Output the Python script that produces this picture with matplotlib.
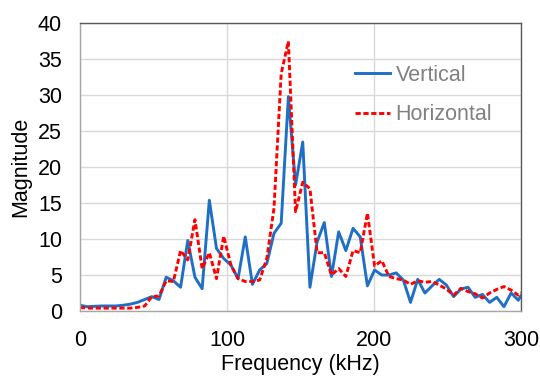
import numpy as np
import matplotlib
matplotlib.use("Agg")
import matplotlib.pyplot as plt

plt.rcParams['font.family'] = ['Liberation Sans', 'DejaVu Sans']

# FFT bin spacing (kHz)
bin_khz = 4.8828125
n_bins = 63

vertical = [0.8, 0.6, 0.65, 0.7, 0.7, 0.7, 0.8, 0.95, 1.2, 1.6,
            2.0, 1.6, 4.7, 4.2, 3.3, 9.8, 4.7, 3.1, 15.4, 8.7,
            7.3, 6.4, 4.5, 10.3, 3.7, 5.7, 6.6, 10.8, 12.2, 29.8,
            17.5, 23.5, 3.3, 9.6, 12.3, 4.8, 11.0, 8.4, 11.5, 10.3,
            3.5, 5.7, 5.0, 5.0, 5.3, 4.3, 1.2, 4.4, 2.5, 3.5,
            4.4, 3.6, 2.0, 3.05, 3.3, 1.9, 2.3, 1.2, 1.9, 0.6,
            2.5, 1.5, 3.1]

horizontal = [0.5, 0.4, 0.4, 0.4, 0.4, 0.4, 0.4, 0.4, 0.5, 0.7,
              2.0, 2.1, 4.2, 4.1, 8.4, 7.1, 12.7, 5.9, 8.1, 4.5,
              10.4, 6.4, 4.5, 4.1, 4.1, 4.3, 7.3, 14.3, 33.0, 37.5,
              13.8, 17.9, 17.0, 8.1, 8.1, 5.0, 5.9, 4.8, 8.4, 8.1,
              13.6, 6.25, 7.0, 4.8, 4.5, 4.3, 3.7, 4.2, 4.0, 4.1,
              3.6, 3.05, 2.2, 3.15, 2.7, 2.4, 1.8, 2.5, 3.0, 3.4,
              2.9, 2.2, 2.9]

freq = np.arange(n_bins) * bin_khz

x_ticks = [0, 100, 200, 300]
y_ticks = [0, 5, 10, 15, 20, 25, 30, 35, 40]

fig = plt.figure(figsize=(5.40, 3.91), dpi=100)
ax = fig.add_axes([0.1481, 0.2046, 0.8176, 0.7358])

ax.plot(freq, vertical, color='#1f6fc5', lw=2.1, label='Vertical',
        solid_joinstyle='round')
ax.plot(freq, horizontal, color='#ff0000', lw=2.1, ls=(0, (1.8, 0.9)),
        label='Horizontal')

ax.set_xlim(0, 300)
ax.set_ylim(0, 40)
ax.set_xticks(x_ticks)
ax.set_yticks(y_ticks)
ax.grid(True, color='#d9d9d9', lw=1.0)
ax.set_axisbelow(True)
ax.tick_params(length=0, labelsize=15.5, colors='black')
ax.tick_params(axis='x', pad=14)
ax.tick_params(axis='y', pad=13)

for side in ('left', 'bottom'):
    ax.spines[side].set_color('#a6a6a6')
for side in ('top', 'right'):
    ax.spines[side].set_color('#595959')
for s in ax.spines.values():
    s.set_linewidth(1.0)

ax.set_xlabel('Frequency (kHz)', fontsize=15.5, labelpad=2)
ax.set_ylabel('Magnitude', fontsize=15.5, labelpad=5)

leg = ax.legend(loc='upper left', bbox_to_anchor=(0.603, 0.885), frameon=False,
                fontsize=15.5, handlelength=1.65, handletextpad=0.25,
                labelspacing=0.85, borderaxespad=0)
for t in leg.get_texts():
    t.set_color('#808080')

fig.savefig('out.png', dpi=100)
